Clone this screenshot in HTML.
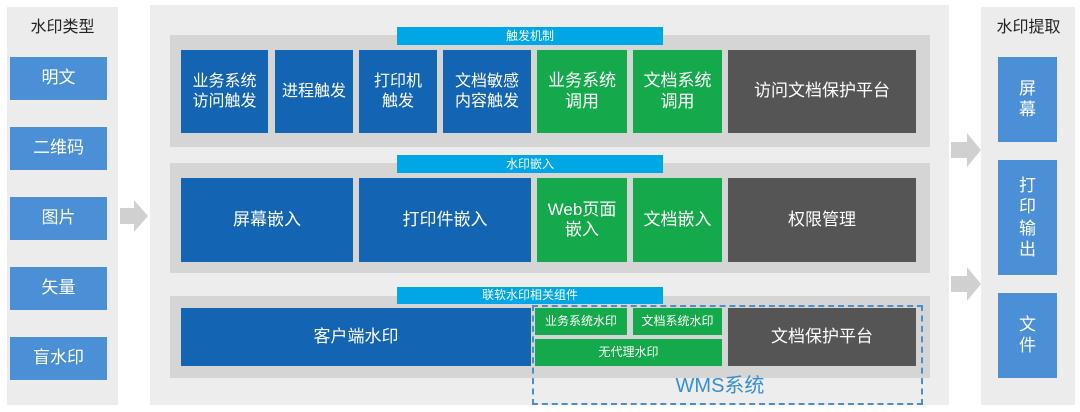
<!DOCTYPE html>
<html><head><meta charset="utf-8"><style>
body{margin:0;width:1080px;height:412px;background:#fff;position:relative;overflow:hidden;font-family:"Liberation Sans","Noto Sans CJK SC",sans-serif}
div{position:absolute;box-sizing:border-box}
.c{display:flex;align-items:center;justify-content:center;text-align:center;color:#fff;line-height:1.2}
.b{background:#1464b4;font-size:16px}
.g{background:#14a94a;font-size:16px}
.d{background:#555;font-size:17px}
.l{background:#4b8fd6;font-size:17px}
.cy{background:#00a6e6;font-size:12px}
.s{background:#d5d5d5}
.t{color:#222;font-size:16px}
</style></head><body>
<div style="left:7px;top:7px;width:111px;height:398px;background:#ececec"></div>
<div class="c t" style="left:7px;top:16px;width:111px;height:24px;color:#222">水印类型</div>
<div class="c l" style="left:10px;top:57px;width:97px;height:43px">明文</div>
<div class="c l" style="left:10px;top:127px;width:97px;height:43px">二维码</div>
<div class="c l" style="left:10px;top:197px;width:97px;height:43px">图片</div>
<div class="c l" style="left:10px;top:267px;width:97px;height:43px">矢量</div>
<div class="c l" style="left:10px;top:337px;width:97px;height:43px">盲水印</div>
<div style="left:150px;top:5px;width:799px;height:400px;background:#ededed"></div>
<div class="s" style="left:170px;top:35px;width:760px;height:112px"></div>
<div class="c cy" style="left:397px;top:27px;width:266px;height:18px">触发机制</div>
<div class="c b" style="left:181px;top:50px;width:87px;height:83px">业务系统<br>访问触发</div>
<div class="c b" style="left:275px;top:50px;width:78px;height:83px">进程触发</div>
<div class="c b" style="left:359px;top:50px;width:78px;height:83px">打印机<br>触发</div>
<div class="c b" style="left:443px;top:50px;width:88px;height:83px">文档敏感<br>内容触发</div>
<div class="c g" style="left:537px;top:50px;width:90px;height:83px;font-size:17px">业务系统<br>调用</div>
<div class="c g" style="left:633px;top:50px;width:89px;height:83px;font-size:17px">文档系统<br>调用</div>
<div class="c d" style="left:728px;top:50px;width:188px;height:83px">访问文档保护平台</div>
<div class="s" style="left:170px;top:163px;width:760px;height:110px"></div>
<div class="c cy" style="left:397px;top:155px;width:266px;height:18px">水印嵌入</div>
<div class="c b" style="left:181px;top:178px;width:172px;height:84px;font-size:17px">屏幕嵌入</div>
<div class="c b" style="left:359px;top:178px;width:172px;height:84px;font-size:17px">打印件嵌入</div>
<div class="c g" style="left:537px;top:178px;width:90px;height:84px;font-size:17px">Web页面<br>嵌入</div>
<div class="c g" style="left:633px;top:178px;width:89px;height:84px;font-size:17px">文档嵌入</div>
<div class="c d" style="left:728px;top:178px;width:188px;height:84px">权限管理</div>
<div class="s" style="left:170px;top:296px;width:760px;height:82px"></div>
<div class="c cy" style="left:397px;top:287px;width:266px;height:17px">联软水印相关组件</div>
<div class="c b" style="left:181px;top:308px;width:350px;height:58px;font-size:17px">客户端水印</div>
<div class="c g" style="left:535px;top:308px;width:92px;height:27px;font-size:12px">业务系统水印</div>
<div class="c g" style="left:633px;top:308px;width:89px;height:27px;font-size:12px">文档系统水印</div>
<div class="c g" style="left:535px;top:339px;width:187px;height:27px;font-size:12px">无代理水印</div>
<div class="c d" style="left:728px;top:308px;width:188px;height:58px">文档保护平台</div>
<div style="left:532px;top:305px;width:391px;height:100px;border:2px dashed #4a8fc8"></div>
<div class="c" style="left:620px;top:372px;width:200px;height:28px;color:#3a8ed0;font-size:20px">WMS系统</div>
<div style="left:981px;top:7px;width:94px;height:398px;background:#ececec"></div>
<div class="c t" style="left:982px;top:16px;width:93px;height:24px;color:#222">水印提取</div>
<div class="c l" style="left:998px;top:57px;width:59px;height:85px">屏<br>幕</div>
<div class="c l" style="left:998px;top:160px;width:59px;height:115px;line-height:1.25">打<br>印<br>输<br>出</div>
<div class="c l" style="left:998px;top:293px;width:59px;height:85px">文<br>件</div>
<svg style="position:absolute;left:0;top:0" width="1080" height="412">
<polygon points="120,208 134,208 134,200 148,216 134,232 134,224 120,224" fill="#d0d0d0"/>
<polygon points="951,142 967,142 967,133 981,150 967,167 967,158 951,158" fill="#d0d0d0"/>
<polygon points="951,276 967,276 967,267 981,284 967,301 967,292 951,292" fill="#d0d0d0"/>
</svg>
</body></html>
